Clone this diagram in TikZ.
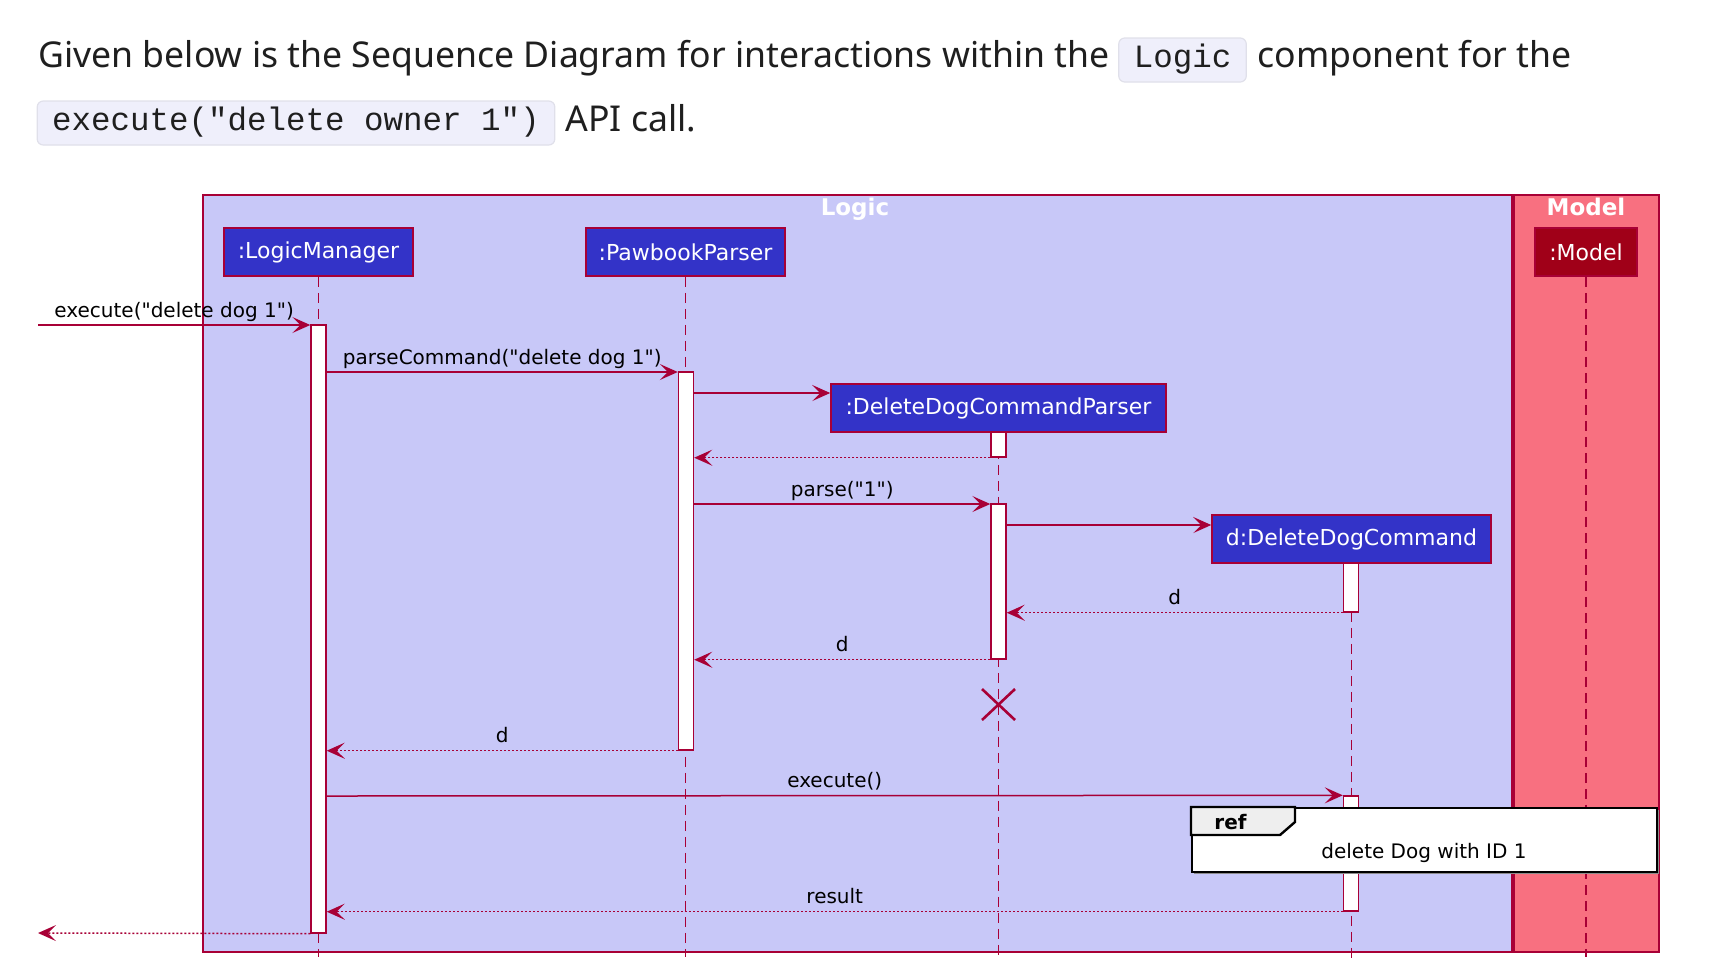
\documentclass[tikz,border=0pt]{standalone}
\usepackage{fontspec}
\setmainfont[Ligatures=TeXOff]{DejaVu Sans}
\newfontfamily\headfont{Noto Sans}
\newfontfamily\codefont{Liberation Mono}
\usetikzlibrary{arrows.meta}
\definecolor{crim}{HTML}{A80036}
\definecolor{logicbg}{HTML}{C8C8F8}
\definecolor{modelbg}{HTML}{F87080}
\definecolor{partblue}{HTML}{3333C8}
\definecolor{partred}{HTML}{A00018}
\definecolor{codebg}{HTML}{EFEFFB}
\definecolor{codeborder}{HTML}{E0E0EA}
\definecolor{headtext}{HTML}{1F1F1F}
\definecolor{refgray}{HTML}{EEEEEE}
\tikzset{
  headtxt/.style={anchor=base west, inner sep=0pt, text=headtext, font=\headfont\fontsize{17.8}{20}\selectfont},
  codebox/.style={anchor=base, draw=codeborder, fill=codebg, line width=0.6pt, rounded corners=3pt,
    text=headtext, font=\codefont\fontsize{16.25}{18}\selectfont, text height=14.5pt, text depth=7.5pt,
    inner ysep=0pt, inner xsep=7.5pt},
  part/.style={draw=crim, line width=0.75pt, fill=partblue, text=white, font=\fontsize{11}{13}\selectfont,
    minimum height=24pt, inner sep=0pt},
  act/.style={draw=crim, fill=white, line width=0.7pt, minimum width=7.5pt, inner sep=0pt},
  msg/.style={draw=crim, line width=0.75pt, -{Stealth[length=9pt,width=8pt,inset=4pt]}},
  ret/.style={msg, dash pattern=on 1pt off 1pt},
  life/.style={draw=crim, line width=0.7pt, dash pattern=on 5pt off 3pt},
  lbl/.style={text=black, font=\fontsize{10}{12}\selectfont, anchor=base, yshift=4pt, inner sep=0pt},
  grptitle/.style={text=white, font=\bfseries\fontsize{11.5}{13}\selectfont, anchor=base, inner sep=0pt},
}
\begin{document}
\begin{tikzpicture}[x=0.5pt, y=-0.5pt]
\useasboundingbox (0,0) rectangle (1722,966);
% heading
\node[headtxt] (h1) at (38,67) {Given below is the Sequence Diagram for interactions within the};
\node[codebox] (c1) at (1182.5,67) {Logic};
\node[headtxt] (h2) at (1257,67) {component for the};
\node[codebox] (c2) at (296,130) {execute("delete owner 1")};
\node[headtxt] (h3) at (565,131) {API call.};
% group boxes
\draw[crim, line width=0.75pt, fill=logicbg] (203,195) rectangle (1512,952);
\draw[crim, line width=0.75pt, fill=modelbg] (1514,195) rectangle (1659,952);
\node[grptitle] (tl) at (855,215) {Logic};
\node[grptitle] (tm) at (1586,215) {Model};
% participants
\node[part, minimum width=94.5pt] (lm) at (318.5,252) {:LogicManager};
\node[part, minimum width=99.5pt] (pp) at (685.5,252) {:PawbookParser};
\node[part, minimum width=167.5pt] (ddcp) at (998.5,408) {:DeleteDogCommandParser};
\node[part, minimum width=139.5pt] (ddc) at (1351.5,539) {d:DeleteDogCommand};
\node[part, fill=partred, minimum width=51pt] (mdl) at (1586,252) {:Model};
% lifelines
\draw[life] (lm.south) -- (lm.south |- 0,957);
\draw[life] (pp.south) -- (pp.south |- 0,957);
\draw[life] (ddcp.south) -- (ddcp.south |- 0,957);
\draw[life] (ddc.south) -- (ddc.south |- 0,962);
\draw[life] (mdl.south) -- (mdl.south |- 0,957);
% activations
\node[act, minimum height=304pt] (a1) at (318.5,629) {};
\node[act, minimum height=189pt] (a2) at (686,561) {};
\node[act, minimum height=12.5pt] (a3) at (998.5,444.5) {};
\node[act, minimum height=77.5pt] (a4) at (998.5,581.5) {};
\node[act, minimum height=24.5pt] (a5) at (1351,587.5) {};
\node[act, minimum height=57.5pt] (a6) at (1351,853.5) {};
% messages
\coordinate (in1) at (38,325);
\coordinate (out1) at (38,933);
\draw[msg] (in1) -- node[lbl] {execute("delete dog 1")} (a1.west |- 0,325);
\draw[msg] (a1.east |- 0,372) -- node[lbl] {parseCommand("delete dog 1")} (a2.west |- 0,372);
\draw[msg] (a2.east |- 0,393) -- (ddcp.west |- 0,393);
\draw[ret] (a3.south west) -- (a2.east |- a3.south west);
\draw[msg] (a2.east |- 0,504) -- node[lbl] {parse("1")} (a4.west |- 0,504);
\draw[msg] (a4.east |- 0,525) -- (ddc.west |- 0,525);
\draw[ret] (a5.south west) -- node[lbl] {d} (a4.east |- a5.south west);
\draw[ret] (a4.south west) -- node[lbl] {d} (a2.east |- a4.south west);
% destroy
\draw[crim, line width=1.3pt] (982,689) -- (1015,720) (982,720) -- (1015,689);
\draw[ret] (a2.south west) -- node[lbl] {d} (a1.east |- a2.south west);
\draw[msg] (a1.east |- 0,796) -- node[lbl] {execute()} (a6.north west);
% ref
\fill[black!45] (1194,810) rectangle (1659,874);
\node[draw=black, fill=white, line width=1.2pt, minimum width=232.5pt, minimum height=32pt, anchor=north west, inner sep=0pt] (ref) at (1191,807) {};
\draw[black, line width=1.2pt, fill=refgray] (1191,807) -- (1295,807) -- (1295,822) -- (1280,835) -- (1191,835) -- cycle;
\node[anchor=base west, inner sep=0pt, font=\bfseries\fontsize{10}{12}\selectfont] (reft) at (1214,829) {ref};
\node[anchor=base, inner sep=0pt, font=\fontsize{10}{12}\selectfont] (refb) at (1424,858) {delete Dog with ID 1};
\draw[ret] (a6.south west) -- node[lbl] {result} (a1.east |- a6.south west);
\draw[ret] (a1.south west) -- (out1);
\end{tikzpicture}
\end{document}
